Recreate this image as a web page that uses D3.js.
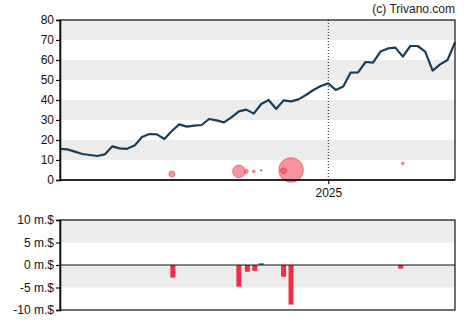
<!DOCTYPE html>
<html>
<head>
<meta charset="utf-8">
<script src="https://cdn.jsdelivr.net/npm/d3@7"></script>
<style>
  html, body { margin: 0; padding: 0; background: #fff; }
  svg { display: block; font-family: Arial, "Liberation Sans", sans-serif; }
</style>
</head>
<body>
<svg id="chart" width="470" height="325"></svg>
<script>
// Weekly closing prices, first week of the series through the last
const firstWeek = "2024-04-24";
const prices = [
  15.6, 15.3, 14.2, 13.0, 12.5, 12.0, 12.8, 16.8, 15.8, 15.6,
  17.2, 21.5, 23.0, 22.8, 20.5, 24.5, 27.8, 26.7, 27.2, 27.5,
  30.5, 29.8, 28.8, 31.3, 34.3, 35.2, 33.2, 38.0, 40.0, 35.5,
  39.8, 39.3, 40.3, 42.5, 45.0, 47.0, 48.3, 45.0, 46.7, 53.7,
  53.8, 59.0, 58.7, 64.2, 65.8, 66.2, 61.7, 67.0, 67.0, 64.2,
  54.7, 57.8, 60.0, 68.8
];

// Insider transactions shown as bubbles on the price panel
const tradeDates  = ["2024-08-07", "2024-10-09", "2024-10-16", "2024-10-23", "2024-10-30", "2024-11-27", "2024-11-20", "2025-03-12"];
const tradeLevels = [3.0, 4.3, 4.3, 4.3, 4.8, 5.0, 4.6, 8.3];
const tradeSizes  = [0.53, 2.35, 0.24, 0.1, 0.03, 8.95, 0.53, 0.1];
const tradeBuy    = [false, false, false, false, true, false, false, false];

// Net insider flow per week, millions of dollars
const flowDates  = ["2024-08-08", "2024-10-09", "2024-10-17", "2024-10-24", "2024-10-30", "2024-11-20", "2024-11-27", "2025-03-10"];
const flowValues = [-2.8, -4.8, -1.5, -1.3, 0.4, -2.6, -8.8, -0.8];

const priceTicks = [0, 10, 20, 30, 40, 50, 60, 70, 80];
const flowTicks  = [-10, -5, 0, 5, 10];
const yearTicks  = ["2025-01-01"];

const parse = d3.utcParse("%Y-%m-%d");
const start = parse(firstWeek);
const weekDates = prices.map((_, i) => d3.utcDay.offset(start, i * 7));

const svg = d3.select("#chart");
const L = 60, R = 455;
const top1 = 20, bot1 = 180;
const top2 = 220, bot2 = 310;

const x = d3.scaleUtc().domain([weekDates[0], weekDates[weekDates.length - 1]]).range([L, R]);
const y = d3.scaleLinear().domain([0, 80]).range([bot1, top1]);
const y2 = d3.scaleLinear().domain([-10, 10]).range([bot2, top2]);
const r = d3.scaleSqrt().domain([0, 10]).range([0, 13]);

const band = "#ececec";
const ink = "#111";

// price panel background stripes
svg.append("g").selectAll("rect")
  .data([10, 30, 50, 70])
  .join("rect")
  .attr("x", L).attr("width", R - L)
  .attr("y", d => y(d + 10)).attr("height", d => y(d) - y(d + 10))
  .attr("fill", band);

// flow panel background stripes
svg.append("g").selectAll("rect")
  .data([-5, 5])
  .join("rect")
  .attr("x", L).attr("width", R - L)
  .attr("y", d => y2(d + 5)).attr("height", d => y2(d) - y2(d + 5))
  .attr("fill", band);

// year divider
svg.append("g").selectAll("line")
  .data(yearTicks.map(parse))
  .join("line")
  .attr("x1", d => x(d)).attr("x2", d => x(d))
  .attr("y1", top1).attr("y2", bot1)
  .attr("stroke", ink).attr("stroke-width", 1)
  .attr("stroke-dasharray", "1,2");

// price line
svg.append("path")
  .datum(prices)
  .attr("fill", "none")
  .attr("stroke", "#163f5e")
  .attr("stroke-width", 2.2)
  .attr("stroke-linejoin", "round")
  .attr("d", d3.line().x((d, i) => x(weekDates[i])).y(d => y(d)));

// insider trade bubbles
const trades = tradeDates.map((d, i) => ({ date: parse(d), level: tradeLevels[i], size: tradeSizes[i], buy: tradeBuy[i] }));
svg.append("g").selectAll("circle")
  .data(trades)
  .join("circle")
  .attr("cx", d => x(d.date))
  .attr("cy", d => y(d.level))
  .attr("r", d => Math.max(0.8, r(d.size)))
  .attr("fill", d => d.buy ? "#2e7d52" : "#f03a4c")
  .attr("fill-opacity", 0.55)
  .attr("stroke", d => d.buy ? "#2e7d52" : "#f03a4c")
  .attr("stroke-opacity", 0.6)
  .attr("stroke-width", 1);

// flow bars
const flows = flowDates.map((d, i) => ({ date: parse(d), value: flowValues[i] }));
svg.append("g").selectAll("rect")
  .data(flows)
  .join("rect")
  .attr("x", d => x(d.date) - 2.5)
  .attr("width", 5)
  .attr("y", d => y2(Math.max(0, d.value)))
  .attr("height", d => Math.abs(y2(d.value) - y2(0)))
  .attr("fill", d => d.value >= 0 ? "#2e8b57" : "#f02d42");

// frames
function frame(t, b) {
  svg.append("rect")
    .attr("x", L).attr("y", t).attr("width", R - L).attr("height", b - t)
    .attr("fill", "none").attr("stroke", ink).attr("stroke-width", 1.2);
}
frame(top1, bot1);
frame(top2, bot2);

// zero line of flow panel
svg.append("line")
  .attr("x1", L).attr("x2", R)
  .attr("y1", y2(0)).attr("y2", y2(0))
  .attr("stroke", ink).attr("stroke-width", 1.2);

// axes
function styleAxis(g) {
  g.selectAll(".domain").attr("stroke", ink).attr("stroke-width", 1.6);
  g.selectAll(".tick line").attr("stroke", ink).attr("stroke-width", 1.2);
  g.selectAll(".tick text").attr("fill", ink).attr("font-size", 12);
}

svg.append("g")
  .attr("transform", `translate(${L},0)`)
  .call(d3.axisLeft(y).tickValues(priceTicks).tickSizeOuter(0).tickSize(4).tickPadding(2))
  .call(styleAxis);

svg.append("g")
  .attr("transform", `translate(0,${bot1})`)
  .call(d3.axisBottom(x).tickValues(yearTicks.map(parse)).tickFormat(d3.utcFormat("%Y")).tickSizeOuter(0).tickSize(4).tickPadding(4))
  .call(styleAxis)
  .call(g => g.select(".domain").remove());

svg.append("line")
  .attr("x1", L).attr("x2", R).attr("y1", bot1).attr("y2", bot1)
  .attr("stroke", ink).attr("stroke-width", 1.6);

svg.append("g")
  .attr("transform", `translate(${L},0)`)
  .call(d3.axisLeft(y2).tickValues(flowTicks).tickFormat(d => d + " m.$").tickSizeOuter(0).tickSize(4).tickPadding(2))
  .call(styleAxis);

// credit
svg.append("text")
  .attr("x", R).attr("y", 13)
  .attr("text-anchor", "end")
  .attr("font-size", 12)
  .attr("fill", "#222")
  .text("(c) Trivano.com");
</script>
</body>
</html>
